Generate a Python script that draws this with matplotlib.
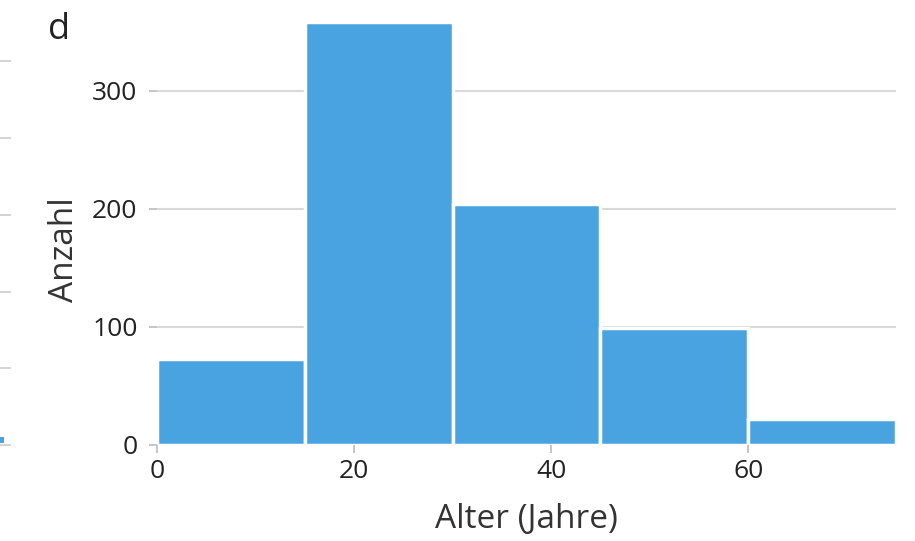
import matplotlib.pyplot as plt
from matplotlib import font_manager

# Histogram data: age bins (years) and counts
bin_edges = [0, 15, 30, 45, 60, 75]
counts = [73, 358, 204, 99, 22]
x_ticks = [0, 20, 40, 60]
y_ticks = [0, 100, 200, 300]

names = {f.name for f in font_manager.fontManager.ttflist}
fam = [f for f in ["Liberation Sans Narrow", "Open Sans", "DejaVu Sans"] if f in names]
plt.rcParams['font.family'] = fam

bar_color = '#48a3e0'
grid_color = '#d9d9d9'
text_color = '#222222'

fig = plt.figure(figsize=(9.15, 5.41), dpi=100)
ax = fig.add_axes([157 / 915, 1 - 445 / 541, (896 - 157) / 915, (445 - 20) / 541])

widths = [bin_edges[i + 1] - bin_edges[i] for i in range(len(counts))]
ax.bar(bin_edges[:-1], counts, width=widths, align='edge', color=bar_color,
       edgecolor='white', linewidth=2.5, zorder=3)

ax.set_xlim(0, 75)
ax.set_ylim(0, 360)
ax.set_xticks(x_ticks)
ax.set_yticks(y_ticks)
ax.grid(axis='y', color=grid_color, linewidth=1.5, zorder=0)
for s in ax.spines.values():
    s.set_visible(False)
ax.tick_params(axis='both', colors='#bbbbbb', labelcolor=text_color,
               labelsize=19, length=6, width=1.2)
ax.tick_params(axis='y', pad=8)
ax.tick_params(axis='x', pad=4)

ax.set_xlabel("Alter (Jahre)", fontsize=24, color='#333333', labelpad=14)
ax.set_ylabel("Anzahl", fontsize=24, color='#333333')
ax.yaxis.set_label_coords(-0.103, 0.46)

fig.text(48 / 915, 1 - 30 / 541, "d", fontsize=26, color=text_color,
         va='center', ha='left')

# fragment of the neighbouring panel at the left edge
ax_left = fig.add_axes([-0.06, 1 - 445 / 541, 0.06, (445 - 20) / 541])
ax_left.set_xlim(0, 1)
ax_left.set_ylim(0, 360)
ax_left.set_yticks([0, 65, 130, 195, 260, 325])
ax_left.set_xticks([])
for s in ax_left.spines.values():
    s.set_visible(False)
ax_left.yaxis.tick_right()
ax_left.tick_params(axis='y', colors='#cccccc', labelright=False, length=8, width=1.2)
ax_left.bar([1.0], [5], bottom=2, width=0.07, align='edge', color=bar_color,
            clip_on=False)

fig.savefig("out.png", dpi=100)
